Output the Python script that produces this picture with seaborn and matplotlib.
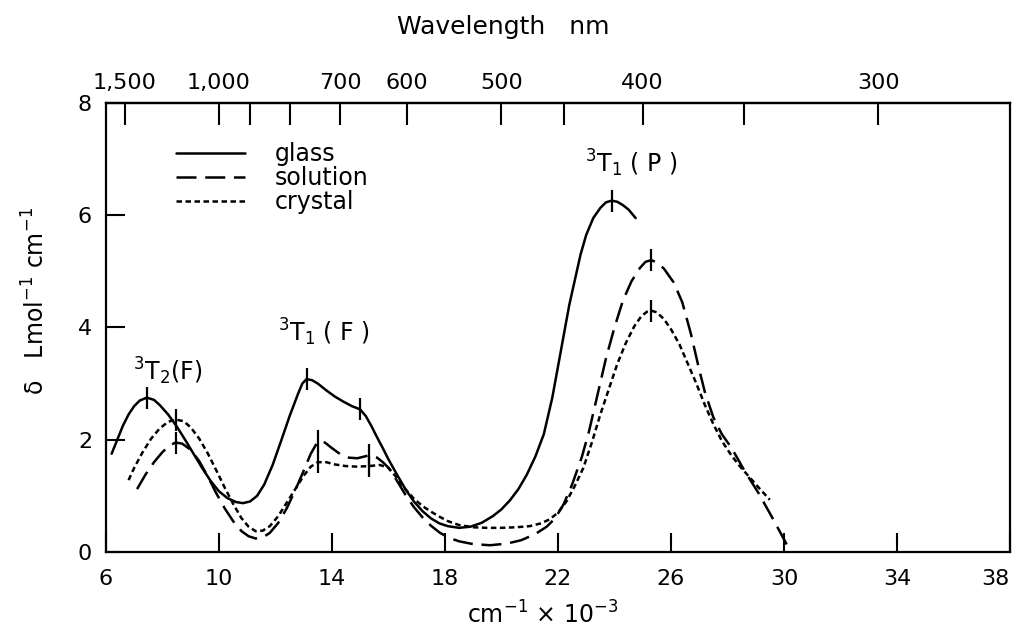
import numpy as np
import matplotlib
matplotlib.use("Agg")
import matplotlib.pyplot as plt
import seaborn as sns

# Absorption of the three samples; wavenumber in 10^3 cm^-1, delta in L mol^-1 cm^-1
glass_x = [6.2, 6.4, 6.6, 6.8, 7.0, 7.2, 7.45, 7.7, 7.9, 8.2, 8.5, 8.8, 9.1, 9.4,
           9.7, 10.0, 10.3, 10.6, 10.85, 11.1, 11.35, 11.6, 11.9, 12.2, 12.5, 12.8,
           12.95, 13.1, 13.3, 13.5, 13.8, 14.1, 14.4, 14.7, 15.0, 15.2, 15.4, 15.6,
           15.8, 16.0, 16.3, 16.6, 16.9, 17.2, 17.5, 17.8, 18.1, 18.5, 18.9, 19.3,
           19.7, 20.0, 20.3, 20.6, 20.9, 21.2, 21.5, 21.8, 22.0, 22.2, 22.4, 22.6,
           22.8, 23.0, 23.25, 23.5, 23.7, 23.9, 24.1, 24.3, 24.5, 24.75]
glass_y = [1.75, 2.0, 2.25, 2.45, 2.6, 2.7, 2.75, 2.71, 2.62, 2.45, 2.24, 2.0, 1.75, 1.5,
           1.27, 1.08, 0.96, 0.89, 0.87, 0.9, 1.0, 1.2, 1.55, 1.98, 2.42, 2.82,
           3.0, 3.08, 3.06, 3.0, 2.88, 2.77, 2.68, 2.6, 2.54, 2.42, 2.24, 2.04,
           1.85, 1.65, 1.38, 1.12, 0.9, 0.73, 0.6, 0.51, 0.46, 0.43, 0.45, 0.52,
           0.64, 0.76, 0.92, 1.12, 1.38, 1.7, 2.1, 2.75, 3.3, 3.85, 4.4, 4.85,
           5.3, 5.65, 5.95, 6.13, 6.23, 6.26, 6.24, 6.18, 6.1, 5.95]

solution_x = [7.1, 7.4, 7.7, 8.0, 8.25, 8.47, 8.7, 9.0, 9.3, 9.6, 9.9, 10.2, 10.5,
              10.8, 11.05, 11.3, 11.55, 11.8, 12.1, 12.4, 12.7, 13.0, 13.25, 13.5,
              13.75, 14.0, 14.3, 14.6, 14.9, 15.3, 15.6, 15.8, 16.0, 16.3, 16.6, 16.9,
              17.2, 17.5, 17.8, 18.1, 18.5, 19.0, 19.6, 20.2, 20.7, 21.2, 21.6, 21.9,
              22.2, 22.5, 22.85, 23.1, 23.4, 23.7, 24.0, 24.3, 24.6, 24.9, 25.1, 25.3,
              25.5, 25.75, 26.1, 26.4, 26.7, 27.0, 27.2, 27.5, 27.8, 28.15, 28.6,
              29.1, 29.6, 30.05, 30.2]
solution_y = [1.12, 1.38, 1.6, 1.78, 1.9, 1.95, 1.93, 1.82, 1.62, 1.35, 1.05, 0.78, 0.55,
              0.37, 0.28, 0.24, 0.26, 0.34, 0.52, 0.78, 1.1, 1.45, 1.75, 1.97,
              1.95, 1.85, 1.74, 1.68, 1.67, 1.72, 1.68, 1.6, 1.5, 1.27, 1.02, 0.8,
              0.62, 0.47, 0.35, 0.26, 0.19, 0.14, 0.12, 0.15, 0.21, 0.32, 0.45, 0.6,
              0.85, 1.2, 1.7, 2.15, 2.8, 3.45, 4.0, 4.48, 4.82, 5.06, 5.17, 5.2,
              5.16, 5.05, 4.8, 4.45, 3.9, 3.25, 2.85, 2.4, 2.1, 1.85, 1.45,
              1.05, 0.6, 0.18, 0.03]

crystal_x = [6.8, 7.0, 7.3, 7.6, 7.9, 8.2, 8.47, 8.75, 9.0, 9.3, 9.6, 9.9, 10.2, 10.5,
             10.8, 11.05, 11.3, 11.55, 11.8, 12.1, 12.4, 12.7, 13.0, 13.25, 13.5, 13.8,
             14.1, 14.5, 14.9, 15.3, 15.7, 16.0, 16.3, 16.6, 16.9, 17.2, 17.5, 17.8,
             18.1, 18.5, 19.0, 19.5, 20.0, 20.5, 21.0, 21.4, 21.7, 22.0, 22.3, 22.6,
             22.9, 23.2, 23.5, 23.8, 24.1, 24.4, 24.7, 24.95, 25.15, 25.3, 25.5, 25.75,
             26.0, 26.3, 26.6, 26.9, 27.2, 27.5, 27.8, 28.1, 28.4, 28.75, 29.1, 29.5]
crystal_y = [1.28, 1.5, 1.78, 2.02, 2.2, 2.32, 2.36, 2.33, 2.22, 2.02, 1.76, 1.46, 1.15, 0.86,
             0.6, 0.45, 0.37, 0.38, 0.46, 0.64, 0.88, 1.12, 1.36, 1.52, 1.6, 1.6,
             1.56, 1.53, 1.52, 1.53, 1.55, 1.5, 1.32, 1.12, 0.95, 0.82, 0.72, 0.63,
             0.55, 0.48, 0.44, 0.43, 0.43, 0.44, 0.46, 0.51, 0.58, 0.7, 0.9, 1.18,
             1.5, 1.95, 2.45, 2.9, 3.35, 3.72, 4.02, 4.2, 4.28, 4.3, 4.27, 4.15,
             3.97, 3.7, 3.35, 3.0, 2.62, 2.28, 1.98, 1.75, 1.55, 1.35, 1.15, 0.93]

# Band maxima / shoulders marked on each curve
glass_marks = [7.45, 13.1, 15.0, 23.9]
solution_marks = [8.47, 13.5, 15.3, 25.3]
crystal_marks = [8.47, 13.5, 15.3, 25.3]

x_ticks = [6, 10, 14, 18, 22, 26, 30, 34, 38]
y_ticks = [0, 2, 4, 6, 8]
wl_ticks = [1500, 1000, 900, 800, 700, 600, 500, 450, 400, 350, 300]
wl_labels = ["1,500", "1,000", "", "", "700", "600", "500", "", "400", "", "300"]

bands = [(r"$^3$T$_2$(F)", 8.2, 3.22),
         (r"$^3$T$_1$ ( F )", 13.7, 3.92),
         (r"$^3$T$_1$ ( P )", 24.6, 6.92)]

sns.set_style("ticks")
plt.rcParams["font.family"] = ["DejaVu Sans"]
plt.rcParams["mathtext.fontset"] = "dejavusans"
for key in ("text.color", "axes.labelcolor", "xtick.color", "ytick.color",
            "axes.edgecolor"):
    plt.rcParams[key] = "black"
FS = 17
TICK_FS = 16

fig = plt.figure(figsize=(10.19, 6.33), dpi=100)
ax = fig.add_axes([0.104, 0.128, 0.8871, 0.7093])

lw = 1.8
sns.lineplot(x=glass_x, y=glass_y, ax=ax, color="k", lw=lw, sort=False,
             estimator=None, label="glass")
sns.lineplot(x=solution_x, y=solution_y, ax=ax, color="k", lw=lw, sort=False,
             estimator=None, label="solution", linestyle=(0, (8, 3.5)))
sns.lineplot(x=crystal_x, y=crystal_y, ax=ax, color="k", lw=lw, sort=False,
             estimator=None, label="crystal", linestyle=(0, (2.2, 1.4)))

for mx, cx, cy in [(glass_marks, glass_x, glass_y),
                   (solution_marks, solution_x, solution_y),
                   (crystal_marks, crystal_x, crystal_y)]:
    my = np.interp(mx, cx, cy)
    sns.scatterplot(x=mx, y=my, ax=ax, marker="|", s=240, color="k",
                    linewidth=1.6, legend=False, zorder=3)

for txt, tx, ty in bands:
    ax.text(tx, ty, txt, fontsize=FS, ha="center", va="center")

ax.set_xlim(6, 38)
ax.set_ylim(0, 8)
ax.set_xticks(x_ticks)
ax.set_yticks(y_ticks)
ax.tick_params(direction="in", length=14, width=1.5, labelsize=TICK_FS, pad=12,
               top=False, right=False)
ax.tick_params(axis="y", pad=10)
ax.get_xticklabels()[-1].set_horizontalalignment("right")
for sp in ax.spines.values():
    sp.set_linewidth(1.6)


def k_to_nm(k):
    k = np.asarray(k, dtype=float)
    with np.errstate(divide="ignore", invalid="ignore"):
        return 1e4 / k


secax = ax.secondary_xaxis("top", functions=(k_to_nm, k_to_nm))
secax.set_xticks(wl_ticks, labels=wl_labels)
secax.tick_params(direction="in", length=16, width=1.5, labelsize=TICK_FS, pad=7)
secax.spines["top"].set_linewidth(1.6)

ax.set_xlabel(r"cm$^{-1}$ $\times$ 10$^{-3}$", fontsize=FS)
ax.xaxis.set_label_coords(0.483, -0.11)
ax.set_ylabel("δ   Lmol$^{-1}$ cm$^{-1}$", fontsize=FS)
ax.yaxis.set_label_coords(-0.062, 0.56)
fig.text(0.494, 0.957, "Wavelength   nm", fontsize=18, ha="center", va="center")

ax.legend(loc="upper left", bbox_to_anchor=(0.078, 0.912), frameon=False,
          handlelength=2.9, handletextpad=1.25, labelspacing=0.0, fontsize=FS,
          borderpad=0, borderaxespad=0)

fig.savefig("out.png", dpi=100)
